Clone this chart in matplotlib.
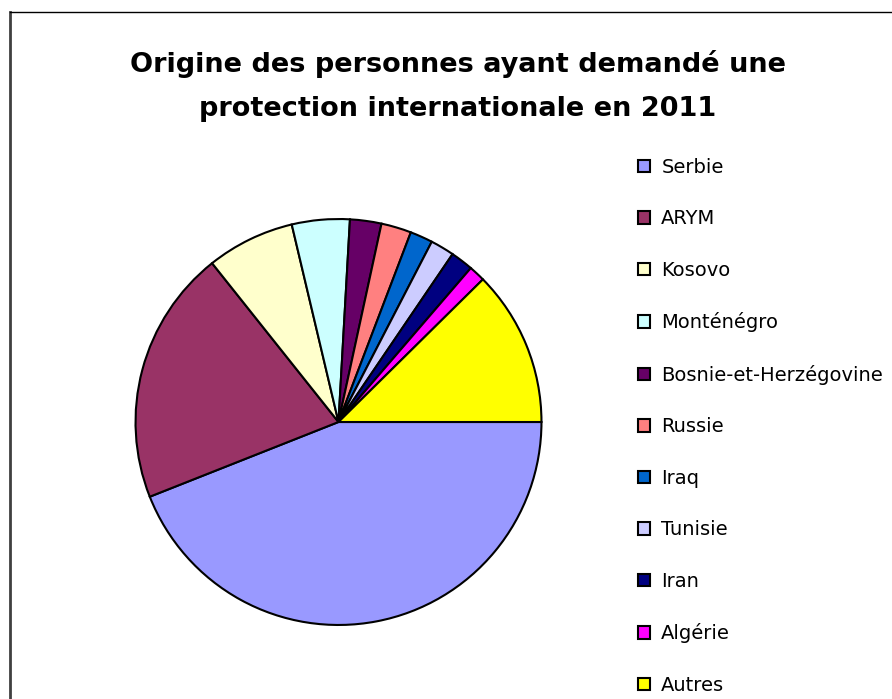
import matplotlib
matplotlib.use("Agg")
import matplotlib.pyplot as plt
from matplotlib.lines import Line2D

# share of applicants by origin (%)
countries = ["Serbie", "ARYM", "Kosovo", "Monténégro", "Bosnie-et-Herzégovine",
             "Russie", "Iraq", "Tunisie", "Iran", "Algérie", "Autres"]
shares = [44.0, 20.3, 7.0, 4.6, 2.5, 2.4, 1.8, 1.9, 1.8, 1.3, 12.4]
colors = ["#9999FF", "#993366", "#FFFFCC", "#CCFFFF", "#660066",
          "#FF8080", "#0066CC", "#CCCCFF", "#000080", "#FF00FF", "#FFFF00"]

title = "Origine des personnes ayant demandé une\nprotection internationale en 2011"

W, H = 892, 699
fig = plt.figure(figsize=(W / 100, H / 100), dpi=100)

# pie centre (338.5, 422) px, radius 205 px
cx, cy, r = 338.5, 422, 205
ax = fig.add_axes([(cx - r) / W, (H - cy - r) / H, 2 * r / W, 2 * r / H])
wedges, _ = ax.pie(shares, colors=colors, startangle=0, counterclock=False,
                   radius=1.0, wedgeprops=dict(edgecolor="black", linewidth=1.5))
ax.set_xlim(-1.01, 1.01)
ax.set_ylim(-1.01, 1.01)
ax.set_aspect("equal")
ax.axis("off")

fig.text(458 / W, 1 - 86 / H, title, ha="center", va="center",
         fontsize=19.5, fontweight="bold", family="DejaVu Sans",
         linespacing=1.95, color="black")

leg = fig.legend(wedges, countries, loc="upper left",
                 bbox_to_anchor=(638 / W, 1 - 158 / H),
                 frameon=False, prop={"family": "DejaVu Sans", "size": 14},
                 handlelength=0.6, handleheight=0.6, handletextpad=0.6,
                 labelspacing=1.67, borderaxespad=0, borderpad=0)
for h in leg.legend_handles:
    h.set_linewidth(1.5)
    h.set_edgecolor("black")

# chart area border (left and top, cut off on the other sides)
fig.add_artist(Line2D([9.5 / W, 9.5 / W], [0, 1 - 12 / H], transform=fig.transFigure,
                      color="#404040", linewidth=2))
fig.add_artist(Line2D([9.5 / W, 1], [1 - 12 / H, 1 - 12 / H], transform=fig.transFigure,
                      color="black", linewidth=1))

fig.savefig("out.png", dpi=100)
